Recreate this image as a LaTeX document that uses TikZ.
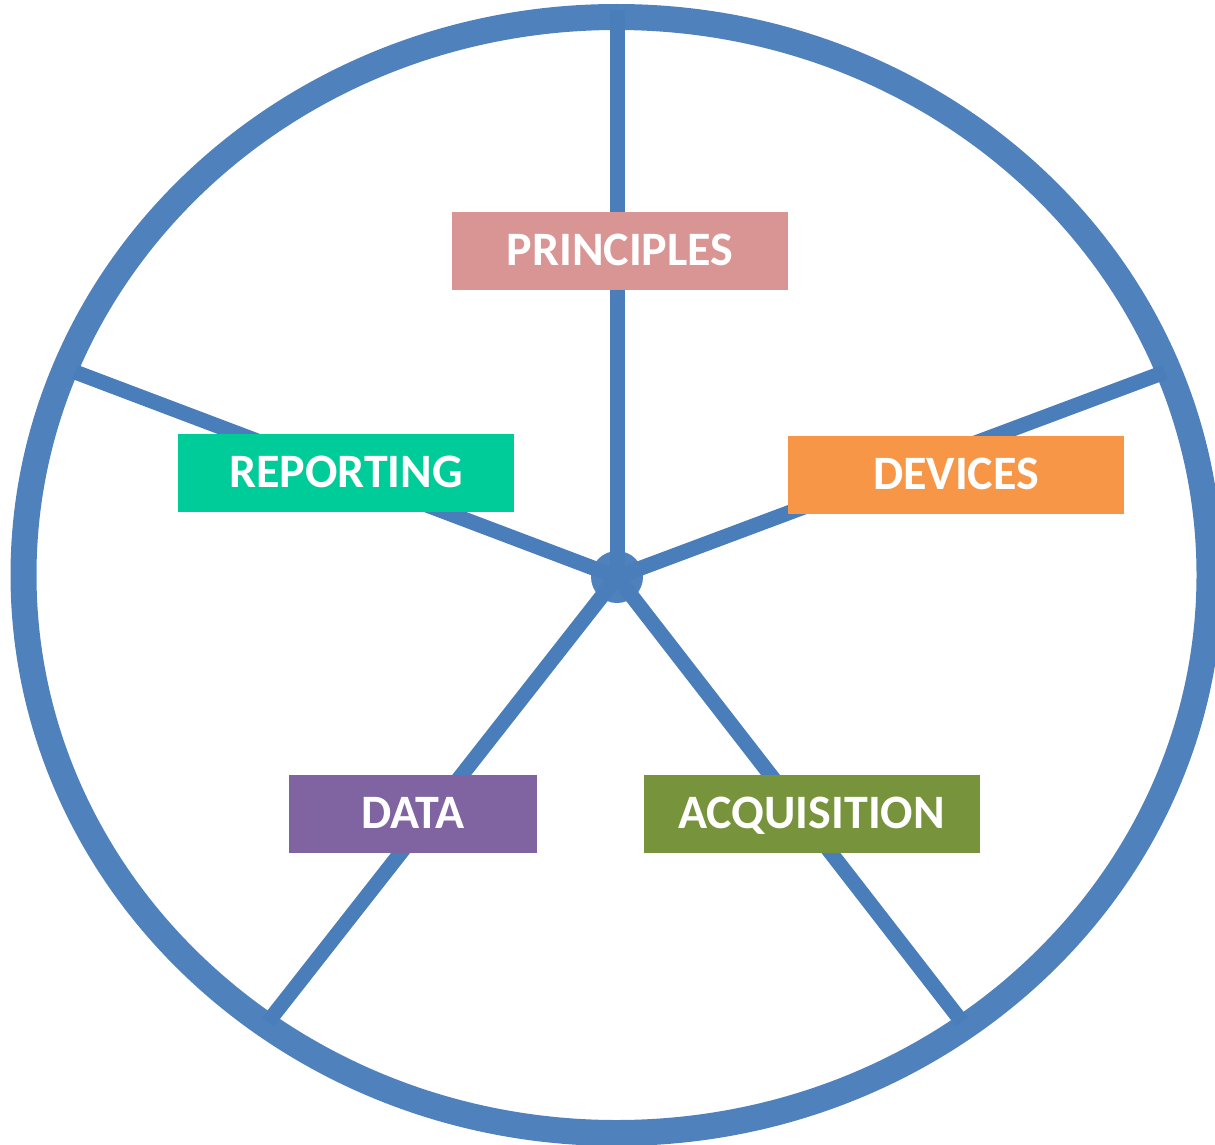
\documentclass[tikz,border=0pt]{standalone}
\usepackage{fontspec}
\setmainfont{Carlito}
\usepackage{tikz}
\usetikzlibrary{positioning}

\definecolor{wheel}{RGB}{79,129,189}
\definecolor{spokecol}{RGB}{74,126,187}
\definecolor{pinkbox}{RGB}{217,149,148}
\definecolor{tealbox}{RGB}{0,204,153}
\definecolor{orangebox}{RGB}{247,150,70}
\definecolor{purplebox}{RGB}{128,100,162}
\definecolor{greenbox}{RGB}{119,147,60}

\begin{document}
\begin{tikzpicture}[x=1pt,y=-1pt,
        spoke/.style={draw=spokecol,line width=15pt},
        topic/.style={minimum width=336pt,minimum height=78pt,inner sep=0pt,text=white,
            font=\fontsize{48}{56}\selectfont\bfseries,text height=30pt,text depth=0pt}]
        \useasboundingbox (0,0) rectangle (1215,1145);

        % rim of the wheel
        \draw[wheel,line width=26pt] (616.5,575) ellipse [x radius=593pt,y radius=558pt];

        % hub and spoke ends
        \node[circle,fill=wheel,minimum size=52pt,inner sep=0pt] (hub) at (617,577) {};
        \coordinate (top) at (617,10);
        \coordinate (left) at (75,372);
        \coordinate (right) at (1165,372);
        \coordinate (lowleft) at (268,1022);
        \coordinate (lowright) at (962,1022);

        \foreach \e in {top,left,right,lowleft,lowright} {
            \draw[spoke] (hub.center) -- (\e);
        }

        % topic boxes
        \node[topic,fill=pinkbox] (principles) at (620,250.5) {PRINCIPLES};
        \node[topic,fill=tealbox] (reporting) at (346,472.5) {REPORTING};
        \node[topic,fill=orangebox] (devices) at (956,474.5) {DEVICES};
        \node[topic,fill=purplebox,minimum width=248pt] (data) at (413,813.5) {DATA};
        \node[topic,fill=greenbox] (acquisition) at (811.5,813.5) {ACQUISITION};
        \end{tikzpicture}
\end{document}
